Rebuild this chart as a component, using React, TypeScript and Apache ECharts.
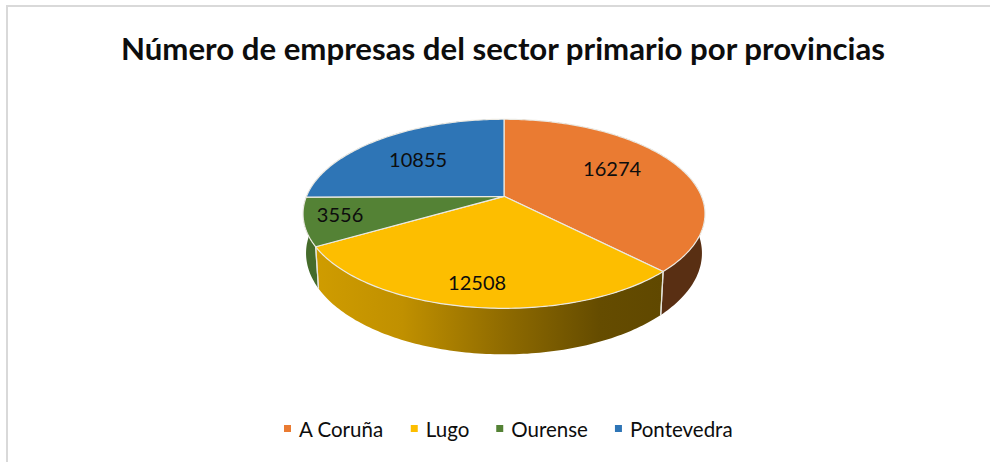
import React, { useEffect, useRef } from "react";
import * as echarts from "echarts";

const titleText = "Número de empresas del sector primario por provincias";
const provinces = ["A Coruña", "Lugo", "Ourense", "Pontevedra"];
const companies = [16274, 12508, 3556, 10855];
const sliceColors = ["#EA7B32", "#FDBE00", "#548235", "#2E75B6"];
// label placement inside each slice: fraction of radius, shift from the mid-angle in degrees
const labelRadius = [0.658, 0.816, 0.824, 0.634];
const labelShift = [-6.2, 0.4, 1.2, -2.5];

const FONT = "Lato, Carlito, Calibri, sans-serif";

// projected disc of the 3D pie
const APEX_X = 504;
const APEX_Y = 196.3;
const RX = 197.5;
const RY = 91.3;
const PERSP = 0.185;

function top(theta: number, r = 1): [number, number] {
  const u = Math.sin(theta) * r;
  const v = -Math.cos(theta) * r;
  const d = 1 - PERSP * v;
  return [APEX_X + (RX * u) / d, APEX_Y + (RY * v) / d];
}
function bottom(theta: number): [number, number] {
  const [x, y] = top(theta);
  return [APEX_X + (x - APEX_X) * 0.985, y + 41.7 + (y - 246.6) * 0.07];
}
function shade(hex: string, f: number) {
  const n = parseInt(hex.slice(1), 16);
  const c = [(n >> 16) & 255, (n >> 8) & 255, n & 255].map((v) => Math.round(v * f));
  return `rgb(${c[0]},${c[1]},${c[2]})`;
}
function arc(a: number, b: number, fn: (t: number) => [number, number]) {
  const n = Math.max(2, Math.ceil(((b - a) * 180) / Math.PI));
  const pts: [number, number][] = [];
  for (let i = 0; i <= n; i++) pts.push(fn(a + ((b - a) * i) / n));
  return pts;
}

export default function App() {
  const ref = useRef<HTMLDivElement>(null);
  useEffect(() => {
    const chart = echarts.init(ref.current!, undefined, { renderer: "svg" });
    const total = companies.reduce((s, v) => s + v, 0);
    const series = provinces.map((name, i) => ({
      type: "custom",
      name,
      coordinateSystem: "none",
      itemStyle: { color: sliceColors[i] },
      data: [[companies[i]]],
      silent: true,
      renderItem: (_p: any, api: any) => {
        const value = api.value(0) as number;
        const before = companies.slice(0, i).reduce((s, v) => s + v, 0);
        const a = (before / total) * Math.PI * 2;
        const b = a + (value / total) * Math.PI * 2;
        const color = sliceColors[i];
        const rimTop = arc(a, b, top);
        const rimBottom = arc(a, b, bottom).reverse();
        const mid = (a + b) / 2 + (labelShift[i] * Math.PI) / 180;
        const [lx, ly] = top(mid, labelRadius[i]);
        const edge = (t: number) => {
          const p = top(t);
          const q = bottom(t);
          return {
            type: "line",
            z2: 2,
            shape: { x1: p[0], y1: p[1], x2: q[0], y2: q[1] },
            style: { stroke: "#e4e4dc", lineWidth: 1.2 },
          };
        };
        return {
          type: "group",
          children: [
            {
              type: "polygon",
              z2: 1,
              shape: { points: [...rimTop, ...rimBottom] },
              style: {
                fill: {
                  type: "linear",
                  global: true,
                  x: 316,
                  y: 0,
                  x2: 662,
                  y2: 0,
                  colorStops: [
                    { offset: 0, color: shade(color, 0.82) },
                    { offset: 0.25, color: shade(color, 0.76) },
                    { offset: 0.55, color: shade(color, 0.56) },
                    { offset: 0.82, color: shade(color, 0.4) },
                    { offset: 1, color: shade(color, 0.38) },
                  ],
                },
              },
            },
            edge(a),
            edge(b),
            {
              type: "polygon",
              z2: 5,
              shape: { points: [[APEX_X, APEX_Y], ...rimTop] },
              style: { fill: color, stroke: "#ebe9e2", lineWidth: 1.2, lineJoin: "round" },
            },
            {
              type: "text",
              z2: 10,
              style: {
                text: String(value),
                x: lx,
                y: ly - 1.5,
                align: "center",
                verticalAlign: "middle",
                font: `20px ${FONT}`,
                fill: "#0d0d0d",
              },
            },
          ],
        };
      },
    }));
    chart.setOption({
      animation: false,
      backgroundColor: "#ffffff",
      title: {
        text: titleText,
        left: 498,
        top: 27,
        textAlign: "center",
        textStyle: { fontFamily: FONT, fontSize: 31.2, fontWeight: 700, color: "#0d0d0d" },
      },
      legend: {
        data: provinces,
        icon: "rect",
        left: 284,
        top: 418,
        padding: 0,
        itemWidth: 7,
        itemHeight: 7,
        itemGap: 27,
        selectedMode: false,
        textStyle: { fontFamily: FONT, fontSize: 20.5, color: "#0d0d0d", padding: [0, 0, 0, 3] },
      },
      graphic: [
        { type: "line", shape: { x1: 6, y1: 6, x2: 990, y2: 6 }, style: { stroke: "#d9d9d9", lineWidth: 2 } },
        { type: "line", shape: { x1: 7, y1: 5, x2: 7, y2: 462 }, style: { stroke: "#d9d9d9", lineWidth: 2 } },
      ],
      series,
    } as any);
    return () => chart.dispose();
  }, []);
  return <div ref={ref} style={{ position: "fixed", left: 0, top: 0, width: 990, height: 462 }} />;
}
